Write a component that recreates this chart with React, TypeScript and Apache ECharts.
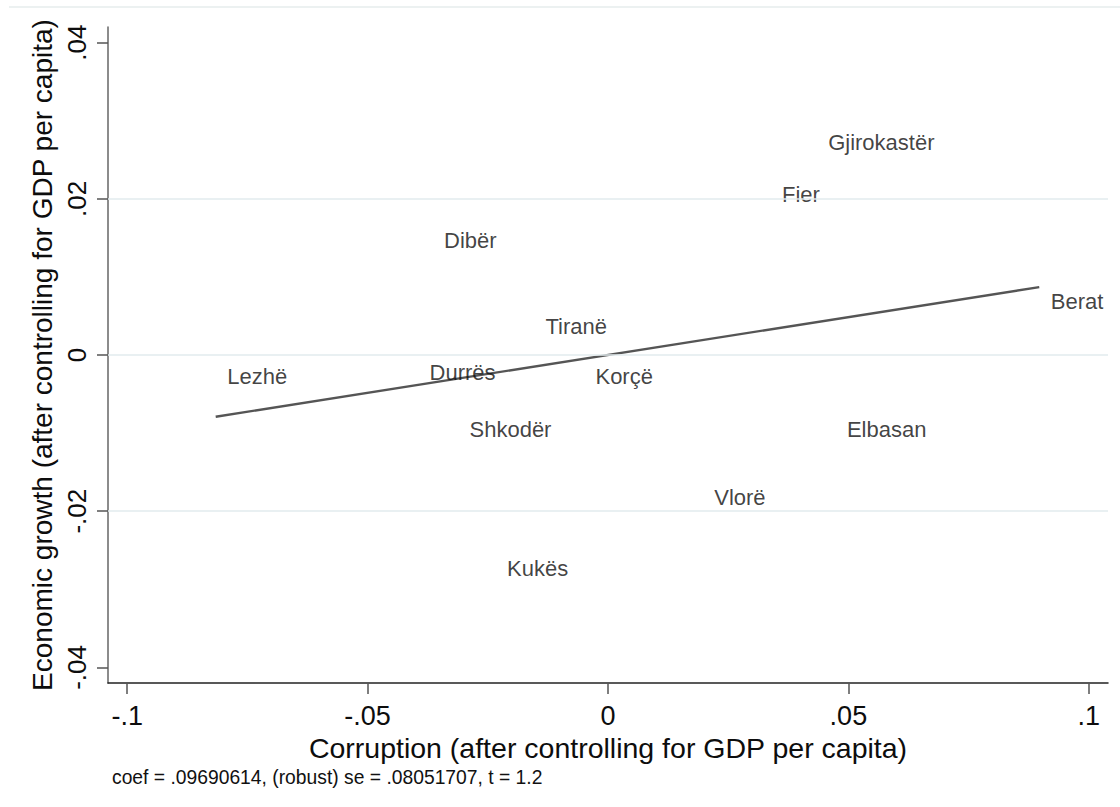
import React, { useEffect, useRef } from "react";
import * as echarts from "echarts";

// ---- data ----
const districts = [
  "Gjirokastër", "Fier", "Dibër", "Berat", "Tiranë", "Lezhë",
  "Durrës", "Korçë", "Shkodër", "Elbasan", "Vlorë", "Kukës",
];
const corruption = [
  0.0434, 0.0338, -0.0365, 0.0897, -0.0154, -0.0816,
  -0.0395, -0.005, -0.0312, 0.0473, 0.0197, -0.0234,
];
const growth = [
  0.0272, 0.0206, 0.0146, 0.0069, 0.0036, -0.0027,
  -0.0023, -0.0028, -0.0096, -0.0095, -0.0182, -0.0273,
];
const xTicks = [-0.1, -0.05, 0, 0.05, 0.1];
const yTicks = [-0.04, -0.02, 0, 0.02, 0.04];
const gridValues = [-0.02, 0, 0.02];
const coef = 0.09690614;
const robustSe = 0.08051707;
const tStat = 1.2;

const xTitle = "Corruption (after controlling for GDP per capita)";
const yTitle = "Economic growth (after controlling for GDP per capita)";

const FONT = "'Liberation Sans', Arial, Helvetica, sans-serif";

function stataFmt(v: number): string {
  if (Math.abs(v) < 1e-12) return "0";
  const s = String(Number(v.toPrecision(10)));
  return s.replace("0.", ".");
}

export default function App() {
  const ref = useRef<HTMLDivElement>(null);

  useEffect(() => {
    if (!ref.current) return;
    const chart = echarts.init(ref.current, undefined, { renderer: "svg" });

    const xMin = Math.min(...corruption);
    const xMax = Math.max(...corruption);
    const fitLine = [
      [xMin, coef * xMin],
      [xMax, coef * xMax],
    ];
    const note = `coef = ${stataFmt(coef)}, (robust) se = ${stataFmt(robustSe)}, t = ${stataFmt(tStat)}`;

    const option: any = {
      animation: false,
      backgroundColor: "#ffffff",
      textStyle: { fontFamily: FONT },
      grid: { left: 108, top: 27, width: 1000, height: 656, containLabel: false },
      xAxis: {
        type: "value",
        min: -0.104,
        max: 0.104,
        name: xTitle,
        nameLocation: "middle",
        nameGap: 40,
        nameTextStyle: { fontSize: 28.5, color: "#0d0d0d", fontFamily: FONT },
        axisLine: { show: true, onZero: false, lineStyle: { color: "#222", width: 1.5 } },
        axisTick: { show: true, length: 11, customValues: xTicks, lineStyle: { color: "#555", width: 1.5 } },
        axisLabel: {
          customValues: xTicks,
          formatter: (v: number) => stataFmt(v),
          fontSize: 27,
          margin: 19,
          color: "#0d0d0d",
          fontFamily: FONT,
        },
        splitLine: { show: false },
      },
      yAxis: {
        type: "value",
        min: -0.042,
        max: 0.042,
        name: yTitle,
        nameLocation: "middle",
        nameGap: 49,
        nameRotate: 90,
        nameTextStyle: { fontSize: 28, color: "#0d0d0d", fontFamily: FONT },
        axisLine: { show: true, onZero: false, lineStyle: { color: "#666", width: 1.5 } },
        axisTick: { show: true, length: 11, customValues: yTicks, lineStyle: { color: "#555", width: 1.5 } },
        axisLabel: {
          customValues: yTicks,
          formatter: (v: number) => stataFmt(v),
          fontSize: 26,
          margin: 18,
          rotate: 90,
          color: "#0d0d0d",
          fontFamily: FONT,
        },
        splitLine: { show: false },
      },
      series: [
        {
          type: "scatter",
          data: [],
          z: 1,
          silent: true,
          markLine: {
            silent: true,
            symbol: "none",
            label: { show: false },
            lineStyle: { color: "#e2ebee", width: 1.5, type: "solid" },
            data: gridValues.map((v) => ({ yAxis: v })),
          },
        },
        {
          type: "line",
          data: fitLine,
          z: 3,
          symbol: "none",
          silent: true,
          lineStyle: { color: "#555555", width: 2.3 },
        },
        {
          type: "scatter",
          z: 4,
          symbolSize: 1,
          itemStyle: { color: "rgba(0,0,0,0)" },
          data: districts.map((n, i) => ({ name: n, value: [corruption[i], growth[i]] })),
          label: {
            show: true,
            position: "right",
            distance: 11,
            formatter: "{b}",
            fontSize: 22,
            color: "#111111",
            fontFamily: FONT,
          },
        },
      ],
      graphic: [
        {
          type: "line",
          shape: { x1: 9, y1: 7, x2: 1120, y2: 7 },
          style: { stroke: "#e6ecec", lineWidth: 1.5 },
        },
        {
          type: "text",
          left: 112,
          top: 768,
          style: { text: note, fontSize: 19.3, fill: "#111111", fontFamily: FONT },
        },
      ],
    };

    chart.setOption(option);
    return () => chart.dispose();
  }, []);

  return (
    <div
      ref={ref}
      style={{ position: "fixed", left: 0, top: 0, width: 1120, height: 807, background: "#fff" }}
    />
  );
}
